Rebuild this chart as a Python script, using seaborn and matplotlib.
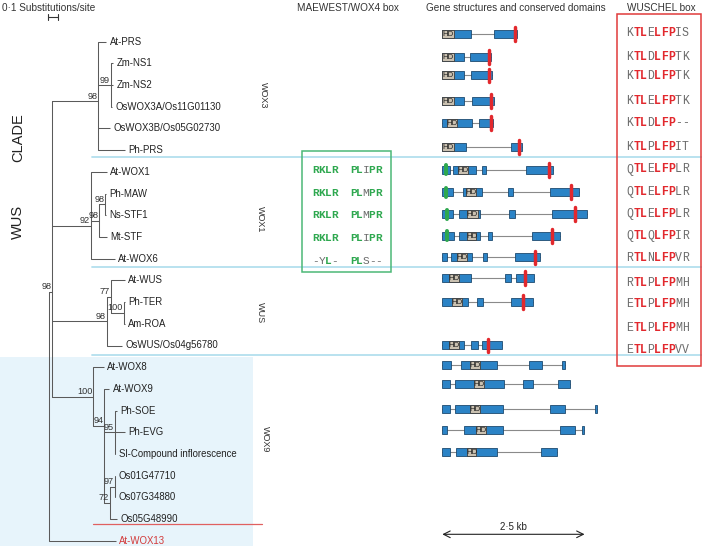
import numpy as np
import matplotlib
matplotlib.use("Agg")
import matplotlib.pyplot as plt
from matplotlib.patches import Rectangle
import seaborn as sns

# ---------------- data ----------------
# phylogeny: tip = (name, depth), node = (key, bootstrap, depth, children); depth in substitutions/site
tree = ("root", None, 0.0, [
    ("inner", 98, 0.03, [
        ("wox3", 98, 0.487, [
            ("At-PRS", 0.567),
            ("zm", 99, 0.614, [("Zm-NS1", 0.639), ("Zm-NS2", 0.639), ("OsWOX3A/Os11G01130", 0.622)]),
            ("OsWOX3B/Os05G02730", 0.602),
            ("Ph-PRS", 0.752),
        ]),
        ("wox1", 92, 0.414, [
            ("At-WOX1", 0.572),
            ("stf", 98, 0.497, [
                ("stf2", 98, 0.557, [("Ph-MAW", 0.562), ("Ns-STF1", 0.562)]),
                ("Mt-STF", 0.572),
            ]),
            ("At-WOX6", 0.652),
        ]),
        ("wus", 98, 0.574, [
            ("wus77", 77, 0.614, [
                ("At-WUS", 0.752),
                ("wus100", 100, 0.747, [("Ph-TER", 0.752), ("Am-ROA", 0.752)]),
            ]),
            ("OsWUS/Os04g56780", 0.722),
        ]),
        ("wox9", 100, 0.44, [
            ("At-WOX8", 0.542),
            ("wox9b", 94, 0.55, [
                ("At-WOX9", 0.599),
                ("sol", 95, 0.657, [("Ph-SOE", 0.672), ("Ph-EVG", 0.752),
                                    ("Sl-Compound inflorescence", 0.66)]),
                ("os72", 72, 0.607, [
                    ("os97", 97, 0.657, [("Os01G47710", 0.66), ("Os07G34880", 0.66)]),
                    ("Os05G48990", 0.672),
                ]),
            ]),
        ]),
    ]),
    ("At-WOX13", 0.662),
])

clade_groups = ["WOX3", "WOX1", "WUS", "WOX9"]

# gene structures (kb from start codon)
gene_names = ["At-PRS", "Zm-NS1", "Zm-NS2", "OsWOX3A", "OsWOX3B", "Ph-PRS",
              "At-WOX1", "Ph-MAW", "Ns-STF1", "Mt-STF", "At-WOX6",
              "At-WUS", "Ph-TER", "OsWUS",
              "At-WOX8", "At-WOX9", "Ph-SOE", "Ph-EVG", "Sl-CI"]
gene_exons = [
    [(0, 0.50), (0.91, 1.31)],
    [(0, 0.39), (0.49, 0.86)],
    [(0, 0.39), (0.50, 0.88)],
    [(0, 0.38), (0.52, 0.90)],
    [(0, 0.53), (0.65, 0.89)],
    [(0, 0.41), (1.21, 1.40)],
    [(0, 0.14), (0.18, 0.59), (0.69, 0.76), (1.47, 1.95)],
    [(0, 0.18), (0.37, 0.70), (1.15, 1.24), (1.89, 2.41)],
    [(0, 0.19), (0.29, 0.66), (1.17, 1.27), (1.93, 2.54)],
    [(0, 0.21), (0.29, 0.66), (0.80, 0.88), (1.58, 2.06)],
    [(0, 0.08), (0.15, 0.53), (0.71, 0.78), (1.28, 1.72)],
    [(0, 0.50), (1.10, 1.20), (1.30, 1.61)],
    [(0, 0.45), (0.61, 0.71), (1.21, 1.60)],
    [(0, 0.39), (0.50, 0.62), (0.70, 1.05)],
    [(0, 0.16), (0.33, 0.96), (1.52, 1.76), (2.11, 2.15)],
    [(0, 0.14), (0.22, 1.08), (1.41, 1.59), (2.04, 2.24)],
    [(0, 0.14), (0.22, 1.07), (1.89, 2.16), (2.68, 2.72)],
    [(0, 0.08), (0.39, 1.06), (2.07, 2.33), (2.46, 2.49)],
    [(0, 0.14), (0.24, 0.97), (1.74, 2.01)],
]
gene_hd = [(0, 0.21), (0, 0.21), (0, 0.21), (0, 0.21), (0.08, 0.25), (0, 0.21),
           (0.27, 0.46), (0.42, 0.60), (0.43, 0.62), (0.43, 0.60), (0.25, 0.44),
           (0.11, 0.29), (0.17, 0.35), (0.11, 0.29),
           (0.49, 0.66), (0.56, 0.74), (0.49, 0.66), (0.59, 0.76), (0.43, 0.60)]
gene_wus_box = [1.27, 0.82, 0.82, 0.85, 0.86, 1.34,
                1.88, 2.27, 2.34, 1.92, 1.63,
                1.45, 1.42, 0.81,
                None, None, None, None, None]
gene_ear = [None] * 6 + [0.07, 0.07, 0.09, 0.08] + [None] * 9
scale_kb = 2.5

maewest_seqs = ["RKLR  PLIPR", "RKLR  PLMPR", "RKLR  PLMPR", "RKLR  PLIPR", "-YL-  PLS--"]
maewest_mask = ["gggg  gg.gg", "gggg  gg.gg", "gggg  gg.gg", "gggg  gg.gg", "..g.  gg..."]

wuschel_seqs = ["KTLELFPIS", "KTLDLFPTK", "KTLDLFPTK", "KTLELFPTK", "KTLDLFP--",
                "KTLPLFPIT", "QTLELFPLR", "QTLELFPLR", "QTLELFPLR", "QTLQLFPIR",
                "RTLNLFPVR", "RTLPLFPMH", "ETLPLFPMH", "ETLPLFPMH", "ETLPLFPVV"]
wuschel_mask = ".rr.rrr.."

# ---------------- layout (pixels) ----------------
W, H = 702, 546
row0, row_step = 41.7, 21.7
root_px, px_per_subst = 49.3, 100.0
gene_x0, px_per_kb = 442.3, 56.9
node_y_px = {"inner": 291.7, "wox1": 226, "wox9b": 426}
gene_y = [33.7, 56.7, 75.3, 101, 122.7, 146.7, 169.7, 192, 214, 235.7, 257.3,
          277.7, 301.7, 345.3, 365.3, 384.3, 408.7, 430.3, 452]
mae_y = [170, 193, 215, 238, 261]
wus_y = [33, 57, 76, 101, 123, 147, 169.5, 192, 214, 236, 258, 282.7, 304, 328, 350]
group_pos = [(263, 95), (260, 219), (260, 313), (265, 439)]

TREE = "#5a5a5a"
BLUE, NAVY, TAN = "#2b83c6", "#1d4a70", "#c9c0b0"
RED, GREEN, GRAY = "#e2282d", "#2ea84f", "#6b6b6b"
SEP = "#b3dfee"

sns.set_theme(style="white")
plt.rcParams["font.family"] = ["Liberation Sans", "DejaVu Sans"]
MONO = ["Liberation Mono", "DejaVu Sans Mono"]

fig = plt.figure(figsize=(W / 100, H / 100), dpi=100)
ax = fig.add_axes([0, 0, 1, 1])
ax.set_xlim(0, W)
ax.set_ylim(H, 0)
ax.axis("off")

axt = fig.add_axes([0, 0, 1, 1])
axt.set_xlim(-root_px / px_per_subst, (W - root_px) / px_per_subst)
axt.set_ylim((H - row0) / row_step, -row0 / row_step)
axt.axis("off")
axt.patch.set_visible(False)

axg = fig.add_axes([0, 0, 1, 1])
axg.set_xlim(-gene_x0 / px_per_kb, (W - gene_x0) / px_per_kb)
axg.set_ylim(H, 0)
axg.axis("off")
axg.patch.set_visible(False)

# background band, separators
ax.add_patch(Rectangle((0, 356.7), 253, H - 356.7, fc="#e7f4fb", ec="none", zorder=0))
for yy in [157, 266.7, 355.3]:
    ax.plot([92, W], [yy, yy], color=SEP, lw=1.3, zorder=1)
ax.plot([93, 262], [524, 524], color="#e06060", lw=0.9, zorder=1)

# headings
hs = 7.2
ax.text(2, 8, "0·1 Substitutions/site", fontsize=hs, va="center", color="#333")
ax.text(297, 8, "MAEWEST/WOX4 box", fontsize=hs, va="center", color="#333")
ax.text(426, 8, "Gene structures and conserved domains", fontsize=hs, va="center", color="#333")
ax.text(627, 8, "WUSCHEL box", fontsize=hs, va="center", color="#333")

# tree scale bar
sb_x = (48 - root_px) / px_per_subst
sb_y = (17 - row0) / row_step
axt.plot([sb_x, sb_x + 0.1], [sb_y, sb_y], color="#333", lw=0.8)
for xx in [sb_x, sb_x + 0.1]:
    axt.plot([xx, xx], [sb_y - 0.12, sb_y + 0.12], color="#333", lw=0.8)

tip_rows = []


def draw(node, parent_x):
    if len(node) == 2:
        name, x = node
        r = len(tip_rows)
        tip_rows.append(name)
        axt.plot([parent_x, x], [r, r], color=TREE, lw=0.75, solid_capstyle="butt")
        col = "#d33a3a" if name == "At-WOX13" else "#222"
        axt.annotate(name, (x, r), xytext=(2.6, 0), textcoords="offset points",
                     fontsize=6.9, va="center", ha="left", color=col)
        return r
    key, sup, x, kids = node
    rows = [draw(k, x) for k in kids]
    if key in node_y_px:
        y = (node_y_px[key] - row0) / row_step
    else:
        y = float(np.mean(rows))
    axt.plot([x, x], [min(rows + [y]), max(rows + [y])], color=TREE, lw=0.75)
    if parent_x is not None:
        axt.plot([parent_x, x], [y, y], color=TREE, lw=0.75)
    if sup is not None:
        axt.annotate(str(sup), (x, y), xytext=(-0.6, 0.4), textcoords="offset points",
                     fontsize=6.6, ha="right", va="bottom", color="#333")
    return y


draw(tree, None)

# clade labels
ax.text(18, 137.5, "CLADE", rotation=90, fontsize=10.5, ha="center", va="center", color="#222")
ax.text(18, 222, "WUS", rotation=90, fontsize=10.5, ha="center", va="center", color="#222")
for g, (gx, gy) in zip(clade_groups, group_pos):
    ax.text(gx, gy, g, rotation=-90, fontsize=6.5, ha="center", va="center", color="#333")

# gene structures
for y, ex, hd, wb, ear in zip(gene_y, gene_exons, gene_hd, gene_wus_box, gene_ear):
    axg.plot([ex[0][0], ex[-1][1]], [y, y], color="#8a8a8a", lw=0.8, zorder=1)
    for s, e in ex:
        axg.add_patch(Rectangle((s, y - 4), e - s, 8, fc=BLUE, ec=NAVY, lw=0.6, zorder=2))
    axg.add_patch(Rectangle((hd[0], y - 4), hd[1] - hd[0], 8, fc=TAN, ec="#3c3c3c", lw=0.6, zorder=3))
    axg.text((hd[0] + hd[1]) / 2, y + 0.4, "HD", fontsize=5.6, ha="center", va="center",
             color="#222", zorder=4)
    if wb is not None:
        axg.plot([wb, wb], [y - 6.8, y + 6.8], color=RED, lw=2.5, solid_capstyle="round", zorder=5)
    if ear is not None:
        axg.plot([ear, ear], [y - 4.5, y + 4.5], color=GREEN, lw=2.9, solid_capstyle="round", zorder=5)

axg.annotate("", xy=(0, 534.3), xytext=(scale_kb, 534.3),
             arrowprops=dict(arrowstyle="<->", lw=0.8, color="#222", shrinkA=0, shrinkB=0,
                             mutation_scale=12))
axg.text(scale_kb / 2, 526.5, "2·5 kb", fontsize=7, ha="center", va="center", color="#222")

# MAEWEST / WOX4 box
ax.add_patch(Rectangle((301.7, 150.7), 89.3, 121, fc="none", ec="#4cb877", lw=1.1, zorder=3))
for y, seq, mask in zip(mae_y, maewest_seqs, maewest_mask):
    for i, (c, m) in enumerate(zip(seq, mask)):
        if c == " ":
            continue
        ax.text(312 + i * 6.3, y, c, fontsize=8, family=MONO, ha="left", va="center",
                color=GREEN if m == "g" else GRAY,
                fontweight="bold" if m == "g" else "normal")

# WUSCHEL box
ax.add_patch(Rectangle((617, 14), 84, 352, fc="none", ec="#e03b3b", lw=1.1, zorder=3))
for y, seq in zip(wus_y, wuschel_seqs):
    for i, (c, m) in enumerate(zip(seq, wuschel_mask)):
        ax.text(626.5 + i * 6.9, y, c, fontsize=8.3, family=MONO, ha="left", va="center",
                color=RED if m == "r" else GRAY,
                fontweight="bold" if m == "r" else "normal")

fig.savefig("out.png", dpi=100)
